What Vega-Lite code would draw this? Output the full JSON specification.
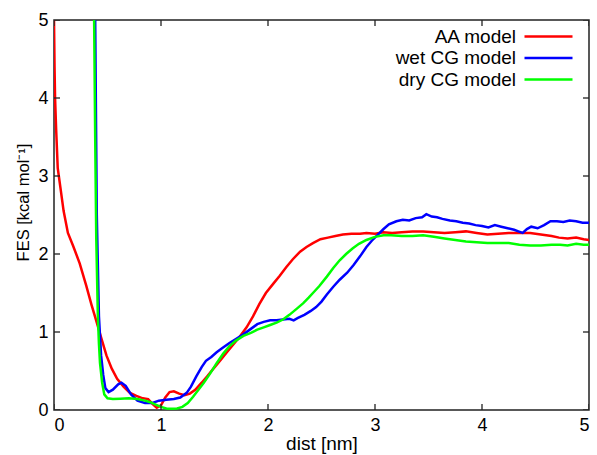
{
  "$schema": "https://vega.github.io/schema/vega-lite/v6.json",
  "width": 535,
  "height": 390,
  "autosize": "none",
  "padding": {"left": 54, "top": 20, "right": 8, "bottom": 45},
  "background": "white",
  "data": {"values": [
    {"model":"AA model","dist":0,"fes":5},{"model":"AA model","dist":0.005,"fes":4.4},{"model":"AA model","dist":0.01,"fes":4.0},{"model":"AA model","dist":0.02,"fes":3.6},{"model":"AA model","dist":0.035,"fes":3.1},{"model":"AA model","dist":0.06,"fes":2.85},{"model":"AA model","dist":0.09,"fes":2.55},{"model":"AA model","dist":0.13,"fes":2.27},{"model":"AA model","dist":0.18,"fes":2.1},{"model":"AA model","dist":0.24,"fes":1.88},{"model":"AA model","dist":0.3,"fes":1.6},{"model":"AA model","dist":0.35,"fes":1.35},{"model":"AA model","dist":0.4,"fes":1.12},{"model":"AA model","dist":0.44,"fes":0.93},{"model":"AA model","dist":0.49,"fes":0.7},{"model":"AA model","dist":0.54,"fes":0.53},{"model":"AA model","dist":0.59,"fes":0.4},{"model":"AA model","dist":0.65,"fes":0.3},{"model":"AA model","dist":0.71,"fes":0.22},{"model":"AA model","dist":0.77,"fes":0.18},{"model":"AA model","dist":0.83,"fes":0.15},{"model":"AA model","dist":0.88,"fes":0.14},{"model":"AA model","dist":0.92,"fes":0.08},{"model":"AA model","dist":0.96,"fes":0.03},{"model":"AA model","dist":1.0,"fes":0.06},{"model":"AA model","dist":1.04,"fes":0.16},{"model":"AA model","dist":1.08,"fes":0.23},{"model":"AA model","dist":1.12,"fes":0.24},{"model":"AA model","dist":1.17,"fes":0.21},{"model":"AA model","dist":1.22,"fes":0.19},{"model":"AA model","dist":1.27,"fes":0.21},{"model":"AA model","dist":1.32,"fes":0.26},{"model":"AA model","dist":1.38,"fes":0.35},{"model":"AA model","dist":1.43,"fes":0.43},{"model":"AA model","dist":1.49,"fes":0.53},{"model":"AA model","dist":1.55,"fes":0.63},{"model":"AA model","dist":1.61,"fes":0.73},{"model":"AA model","dist":1.67,"fes":0.83},{"model":"AA model","dist":1.73,"fes":0.93},{"model":"AA model","dist":1.8,"fes":1.06},{"model":"AA model","dist":1.86,"fes":1.2},{"model":"AA model","dist":1.92,"fes":1.36},{"model":"AA model","dist":1.98,"fes":1.5},{"model":"AA model","dist":2.05,"fes":1.62},{"model":"AA model","dist":2.11,"fes":1.72},{"model":"AA model","dist":2.17,"fes":1.83},{"model":"AA model","dist":2.23,"fes":1.93},{"model":"AA model","dist":2.3,"fes":2.03},{"model":"AA model","dist":2.36,"fes":2.09},{"model":"AA model","dist":2.42,"fes":2.14},{"model":"AA model","dist":2.49,"fes":2.19},{"model":"AA model","dist":2.56,"fes":2.21},{"model":"AA model","dist":2.63,"fes":2.23},{"model":"AA model","dist":2.7,"fes":2.25},{"model":"AA model","dist":2.78,"fes":2.26},{"model":"AA model","dist":2.86,"fes":2.26},{"model":"AA model","dist":2.92,"fes":2.27},{"model":"AA model","dist":3.0,"fes":2.26},{"model":"AA model","dist":3.08,"fes":2.28},{"model":"AA model","dist":3.16,"fes":2.27},{"model":"AA model","dist":3.25,"fes":2.28},{"model":"AA model","dist":3.35,"fes":2.29},{"model":"AA model","dist":3.45,"fes":2.29},{"model":"AA model","dist":3.55,"fes":2.28},{"model":"AA model","dist":3.65,"fes":2.27},{"model":"AA model","dist":3.75,"fes":2.28},{"model":"AA model","dist":3.85,"fes":2.29},{"model":"AA model","dist":3.95,"fes":2.27},{"model":"AA model","dist":4.05,"fes":2.25},{"model":"AA model","dist":4.15,"fes":2.26},{"model":"AA model","dist":4.25,"fes":2.27},{"model":"AA model","dist":4.35,"fes":2.27},{"model":"AA model","dist":4.45,"fes":2.27},{"model":"AA model","dist":4.55,"fes":2.25},{"model":"AA model","dist":4.65,"fes":2.23},{"model":"AA model","dist":4.72,"fes":2.21},{"model":"AA model","dist":4.8,"fes":2.2},{"model":"AA model","dist":4.88,"fes":2.21},{"model":"AA model","dist":4.95,"fes":2.19},{"model":"AA model","dist":5.0,"fes":2.18},
    {"model":"wet CG model","dist":0.385,"fes":5},{"model":"wet CG model","dist":0.4,"fes":2.5},{"model":"wet CG model","dist":0.42,"fes":1.2},{"model":"wet CG model","dist":0.44,"fes":0.7},{"model":"wet CG model","dist":0.46,"fes":0.45},{"model":"wet CG model","dist":0.48,"fes":0.28},{"model":"wet CG model","dist":0.51,"fes":0.23},{"model":"wet CG model","dist":0.55,"fes":0.26},{"model":"wet CG model","dist":0.6,"fes":0.33},{"model":"wet CG model","dist":0.63,"fes":0.35},{"model":"wet CG model","dist":0.67,"fes":0.31},{"model":"wet CG model","dist":0.72,"fes":0.2},{"model":"wet CG model","dist":0.78,"fes":0.12},{"model":"wet CG model","dist":0.85,"fes":0.09},{"model":"wet CG model","dist":0.92,"fes":0.09},{"model":"wet CG model","dist":0.98,"fes":0.12},{"model":"wet CG model","dist":1.05,"fes":0.13},{"model":"wet CG model","dist":1.12,"fes":0.14},{"model":"wet CG model","dist":1.18,"fes":0.16},{"model":"wet CG model","dist":1.24,"fes":0.22},{"model":"wet CG model","dist":1.28,"fes":0.3},{"model":"wet CG model","dist":1.33,"fes":0.43},{"model":"wet CG model","dist":1.38,"fes":0.55},{"model":"wet CG model","dist":1.42,"fes":0.63},{"model":"wet CG model","dist":1.47,"fes":0.68},{"model":"wet CG model","dist":1.52,"fes":0.74},{"model":"wet CG model","dist":1.58,"fes":0.8},{"model":"wet CG model","dist":1.64,"fes":0.86},{"model":"wet CG model","dist":1.7,"fes":0.91},{"model":"wet CG model","dist":1.77,"fes":0.97},{"model":"wet CG model","dist":1.84,"fes":1.04},{"model":"wet CG model","dist":1.9,"fes":1.1},{"model":"wet CG model","dist":1.96,"fes":1.13},{"model":"wet CG model","dist":2.02,"fes":1.15},{"model":"wet CG model","dist":2.08,"fes":1.15},{"model":"wet CG model","dist":2.14,"fes":1.16},{"model":"wet CG model","dist":2.2,"fes":1.17},{"model":"wet CG model","dist":2.24,"fes":1.15},{"model":"wet CG model","dist":2.28,"fes":1.18},{"model":"wet CG model","dist":2.34,"fes":1.22},{"model":"wet CG model","dist":2.4,"fes":1.27},{"model":"wet CG model","dist":2.45,"fes":1.32},{"model":"wet CG model","dist":2.5,"fes":1.39},{"model":"wet CG model","dist":2.55,"fes":1.48},{"model":"wet CG model","dist":2.61,"fes":1.58},{"model":"wet CG model","dist":2.67,"fes":1.67},{"model":"wet CG model","dist":2.74,"fes":1.76},{"model":"wet CG model","dist":2.8,"fes":1.86},{"model":"wet CG model","dist":2.86,"fes":1.97},{"model":"wet CG model","dist":2.92,"fes":2.09},{"model":"wet CG model","dist":2.97,"fes":2.17},{"model":"wet CG model","dist":3.02,"fes":2.24},{"model":"wet CG model","dist":3.08,"fes":2.32},{"model":"wet CG model","dist":3.13,"fes":2.38},{"model":"wet CG model","dist":3.2,"fes":2.42},{"model":"wet CG model","dist":3.26,"fes":2.44},{"model":"wet CG model","dist":3.32,"fes":2.43},{"model":"wet CG model","dist":3.38,"fes":2.46},{"model":"wet CG model","dist":3.44,"fes":2.47},{"model":"wet CG model","dist":3.48,"fes":2.51},{"model":"wet CG model","dist":3.53,"fes":2.48},{"model":"wet CG model","dist":3.58,"fes":2.47},{"model":"wet CG model","dist":3.63,"fes":2.45},{"model":"wet CG model","dist":3.7,"fes":2.43},{"model":"wet CG model","dist":3.76,"fes":2.42},{"model":"wet CG model","dist":3.82,"fes":2.4},{"model":"wet CG model","dist":3.88,"fes":2.39},{"model":"wet CG model","dist":3.94,"fes":2.37},{"model":"wet CG model","dist":4.0,"fes":2.36},{"model":"wet CG model","dist":4.06,"fes":2.34},{"model":"wet CG model","dist":4.12,"fes":2.37},{"model":"wet CG model","dist":4.18,"fes":2.35},{"model":"wet CG model","dist":4.24,"fes":2.33},{"model":"wet CG model","dist":4.3,"fes":2.31},{"model":"wet CG model","dist":4.34,"fes":2.29},{"model":"wet CG model","dist":4.38,"fes":2.27},{"model":"wet CG model","dist":4.42,"fes":2.32},{"model":"wet CG model","dist":4.46,"fes":2.35},{"model":"wet CG model","dist":4.52,"fes":2.33},{"model":"wet CG model","dist":4.58,"fes":2.37},{"model":"wet CG model","dist":4.64,"fes":2.42},{"model":"wet CG model","dist":4.7,"fes":2.42},{"model":"wet CG model","dist":4.76,"fes":2.41},{"model":"wet CG model","dist":4.82,"fes":2.43},{"model":"wet CG model","dist":4.88,"fes":2.42},{"model":"wet CG model","dist":4.94,"fes":2.4},{"model":"wet CG model","dist":5.0,"fes":2.4},
    {"model":"dry CG model","dist":0.375,"fes":5},{"model":"dry CG model","dist":0.385,"fes":3.5},{"model":"dry CG model","dist":0.395,"fes":2.2},{"model":"dry CG model","dist":0.41,"fes":1.2},{"model":"dry CG model","dist":0.42,"fes":0.85},{"model":"dry CG model","dist":0.43,"fes":0.6},{"model":"dry CG model","dist":0.45,"fes":0.35},{"model":"dry CG model","dist":0.47,"fes":0.2},{"model":"dry CG model","dist":0.5,"fes":0.15},{"model":"dry CG model","dist":0.55,"fes":0.14},{"model":"dry CG model","dist":0.62,"fes":0.145},{"model":"dry CG model","dist":0.7,"fes":0.15},{"model":"dry CG model","dist":0.78,"fes":0.14},{"model":"dry CG model","dist":0.85,"fes":0.12},{"model":"dry CG model","dist":0.9,"fes":0.1},{"model":"dry CG model","dist":0.95,"fes":0.07},{"model":"dry CG model","dist":1.0,"fes":0.04},{"model":"dry CG model","dist":1.05,"fes":0.02},{"model":"dry CG model","dist":1.1,"fes":0.015},{"model":"dry CG model","dist":1.15,"fes":0.02},{"model":"dry CG model","dist":1.2,"fes":0.04},{"model":"dry CG model","dist":1.25,"fes":0.09},{"model":"dry CG model","dist":1.3,"fes":0.17},{"model":"dry CG model","dist":1.35,"fes":0.26},{"model":"dry CG model","dist":1.4,"fes":0.35},{"model":"dry CG model","dist":1.46,"fes":0.47},{"model":"dry CG model","dist":1.52,"fes":0.6},{"model":"dry CG model","dist":1.58,"fes":0.72},{"model":"dry CG model","dist":1.64,"fes":0.82},{"model":"dry CG model","dist":1.7,"fes":0.89},{"model":"dry CG model","dist":1.77,"fes":0.95},{"model":"dry CG model","dist":1.84,"fes":0.99},{"model":"dry CG model","dist":1.9,"fes":1.03},{"model":"dry CG model","dist":1.96,"fes":1.06},{"model":"dry CG model","dist":2.02,"fes":1.09},{"model":"dry CG model","dist":2.08,"fes":1.12},{"model":"dry CG model","dist":2.14,"fes":1.16},{"model":"dry CG model","dist":2.2,"fes":1.22},{"model":"dry CG model","dist":2.27,"fes":1.3},{"model":"dry CG model","dist":2.33,"fes":1.37},{"model":"dry CG model","dist":2.38,"fes":1.44},{"model":"dry CG model","dist":2.42,"fes":1.5},{"model":"dry CG model","dist":2.48,"fes":1.59},{"model":"dry CG model","dist":2.55,"fes":1.71},{"model":"dry CG model","dist":2.61,"fes":1.82},{"model":"dry CG model","dist":2.67,"fes":1.92},{"model":"dry CG model","dist":2.73,"fes":2.0},{"model":"dry CG model","dist":2.79,"fes":2.07},{"model":"dry CG model","dist":2.85,"fes":2.13},{"model":"dry CG model","dist":2.92,"fes":2.18},{"model":"dry CG model","dist":3.0,"fes":2.22},{"model":"dry CG model","dist":3.08,"fes":2.24},{"model":"dry CG model","dist":3.15,"fes":2.24},{"model":"dry CG model","dist":3.25,"fes":2.23},{"model":"dry CG model","dist":3.35,"fes":2.23},{"model":"dry CG model","dist":3.45,"fes":2.24},{"model":"dry CG model","dist":3.55,"fes":2.22},{"model":"dry CG model","dist":3.65,"fes":2.2},{"model":"dry CG model","dist":3.75,"fes":2.18},{"model":"dry CG model","dist":3.85,"fes":2.16},{"model":"dry CG model","dist":3.95,"fes":2.15},{"model":"dry CG model","dist":4.05,"fes":2.14},{"model":"dry CG model","dist":4.15,"fes":2.14},{"model":"dry CG model","dist":4.25,"fes":2.14},{"model":"dry CG model","dist":4.35,"fes":2.12},{"model":"dry CG model","dist":4.45,"fes":2.11},{"model":"dry CG model","dist":4.55,"fes":2.11},{"model":"dry CG model","dist":4.65,"fes":2.12},{"model":"dry CG model","dist":4.73,"fes":2.12},{"model":"dry CG model","dist":4.8,"fes":2.11},{"model":"dry CG model","dist":4.88,"fes":2.13},{"model":"dry CG model","dist":4.95,"fes":2.12},{"model":"dry CG model","dist":5.0,"fes":2.12}
  ]},
  "layer": [
    {
      "mark": {"type": "line", "strokeWidth": 2.5, "clip": true},
      "encoding": {
        "x": {"field": "dist", "type": "quantitative", "scale": {"domain": [0, 5], "nice": false},
              "axis": {"orient": "bottom", "title": "dist [nm]", "values": [0,1,2,3,4,5], "format": "d", "titleY": 24, "titleBaseline": "top", "titleFontSize": 19}},
        "y": {"field": "fes", "type": "quantitative", "scale": {"domain": [0, 5], "nice": false},
              "axis": {"orient": "left", "title": "FES [kcal mol⁻¹]", "values": [0,1,2,3,4,5], "format": "d", "titleY": 182}},
        "color": {"field": "model", "type": "nominal",
                  "scale": {"domain": ["AA model", "wet CG model", "dry CG model"], "range": ["#ff0000", "#0000ff", "#00ff00"]},
                  "legend": {"orient": "none", "legendX": 485, "legendY": 7, "title": null, "symbolType": "M-3,0H3", "symbolSize": 256,
                             "symbolStrokeWidth": 2.5, "labelAlign": "right", "labelOffset": -42, "labelFontSize": 19,
                             "labelFont": "Liberation Sans", "labelColor": "#000", "rowPadding": 1.5, "padding": 0, "labelLimit": 300}},
        "order": {"field": "dist", "type": "quantitative"}
      }
    },
    {
      "data": {"values": [{"v": 0}, {"v": 1}, {"v": 2}, {"v": 3}, {"v": 4}, {"v": 5}]},
      "mark": {"type": "tick", "orient": "vertical", "size": 12, "thickness": 1.3, "color": "#222", "opacity": 1, "clip": true},
      "encoding": {
        "x": {"field": "v", "type": "quantitative", "axis": null},
        "y": {"datum": 0, "type": "quantitative", "axis": null}
      }
    },
    {
      "data": {"values": [{"v": 0}, {"v": 1}, {"v": 2}, {"v": 3}, {"v": 4}, {"v": 5}]},
      "mark": {"type": "tick", "orient": "vertical", "size": 12, "thickness": 1.3, "color": "#222", "opacity": 1, "clip": true},
      "encoding": {
        "x": {"field": "v", "type": "quantitative", "axis": null},
        "y": {"datum": 5, "type": "quantitative", "axis": null}
      }
    },
    {
      "data": {"values": [{"v": 0}, {"v": 1}, {"v": 2}, {"v": 3}, {"v": 4}, {"v": 5}]},
      "mark": {"type": "tick", "orient": "horizontal", "size": 12, "thickness": 1.3, "color": "#222", "opacity": 1, "clip": true},
      "encoding": {
        "y": {"field": "v", "type": "quantitative", "axis": null},
        "x": {"datum": 0, "type": "quantitative", "axis": null}
      }
    },
    {
      "data": {"values": [{"v": 0}, {"v": 1}, {"v": 2}, {"v": 3}, {"v": 4}, {"v": 5}]},
      "mark": {"type": "tick", "orient": "horizontal", "size": 12, "thickness": 1.3, "color": "#222", "opacity": 1, "clip": true},
      "encoding": {
        "y": {"field": "v", "type": "quantitative", "axis": null},
        "x": {"datum": 5, "type": "quantitative", "axis": null}
      }
    }
  ],
  "resolve": {"axis": {"x": "independent", "y": "independent"}},
  "config": {
    "view": {"stroke": "#222", "strokeWidth": 1.5},
    "axis": {"grid": false, "domain": false, "ticks": false,
             "labelFont": "Liberation Sans", "labelFontSize": 18, "labelColor": "#000", "labelPadding": 6,
             "titleFont": "Liberation Sans", "titleFontSize": 16.5, "titleFontWeight": "normal", "titleColor": "#000"},
    "axisLeft": {"titlePadding": 6}
  }
}
